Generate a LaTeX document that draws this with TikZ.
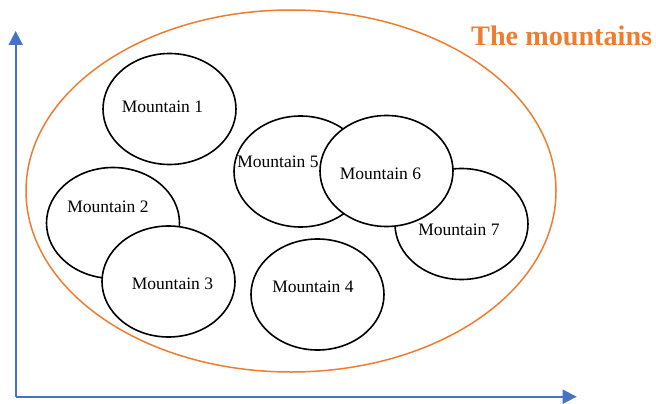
\documentclass[tikz,border=0pt]{standalone}
\usepackage{fontspec}
\setmainfont{Liberation Serif}
\usetikzlibrary{shapes.geometric,arrows.meta}
\definecolor{axisblue}{HTML}{4472C4}
\definecolor{groupor}{HTML}{ED7D31}
\tikzset{
  mountain/.style={ellipse, draw=black, fill=white, line width=1.6pt, inner sep=0pt,
    minimum width=133pt, minimum height=111pt},
  mlabel/.style={anchor=base, inner sep=0pt, font=\fontsize{17.5}{20}\selectfont},
  axis/.style={draw=axisblue, line width=1.8pt, -{Triangle[length=14pt,width=14pt]}},
  groupring/.style={ellipse, draw=groupor, line width=1.5pt, inner sep=0pt,
    minimum width=530pt, minimum height=362pt},
  grouptitle/.style={anchor=base west, inner sep=0pt, text=groupor,
    font=\fontsize{28.2}{32}\selectfont\bfseries}
}
\begin{document}
\begin{tikzpicture}[x=1pt,y=-1pt]
\useasboundingbox (0,0) rectangle (656,404);
% group ring
\node[groupring] (group) at (291,191) {};
\node[grouptitle] (title) at (471,45.7) {The mountains};
% axes
\coordinate (origin) at (15.7,396.7);
\coordinate (ytip) at (15.7,31);
\coordinate (xtip) at (576.7,396.7);
\draw[axis] (origin) -- (ytip);
\draw[axis] (origin) -- (xtip);
% mountains
\node[mountain] (m1) at (169.5,109) {};
\node[mlabel] (t1) at (162.5,112.3) {Mountain 1};
\node[mountain] (m2) at (113,223) {};
\node[mlabel] (t2) at (108,212) {Mountain 2};
\node[mountain] (m3) at (168.5,281.5) {};
\node[mlabel] (t3) at (172.5,289) {Mountain 3};
\node[mountain] (m4) at (317.5,294.5) {};
\node[mlabel] (t4) at (313,292) {Mountain 4};
\node[mountain] (m5) at (300.5,171.5) {};
\node[mlabel] (t5) at (278,167) {Mountain 5};
\node[mountain] (m7) at (461.5,224) {};
\node[mlabel] (t7) at (459,235) {Mountain 7};
\node[mountain] (m6) at (386.5,171) {};
\node[mlabel] (t6) at (380.5,179) {Mountain 6};
\end{tikzpicture}
\end{document}
